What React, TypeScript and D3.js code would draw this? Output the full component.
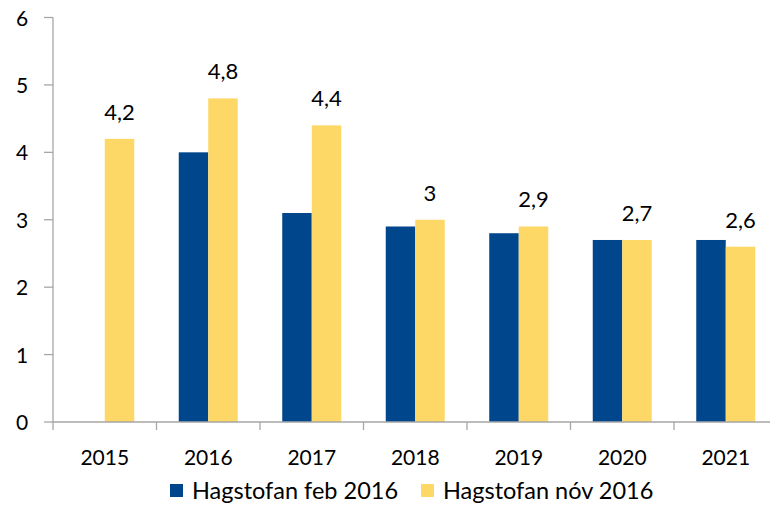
import React from "react";
import * as d3 from "d3";

const categories = ["2015", "2016", "2017", "2018", "2019", "2020", "2021"];
const seriesNames = ["Hagstofan feb 2016", "Hagstofan nóv 2016"];
const febValues: (number | null)[] = [null, 4.0, 3.1, 2.9, 2.8, 2.7, 2.7];
const novValues: number[] = [4.2, 4.8, 4.4, 3.0, 2.9, 2.7, 2.6];
const yTicks = [0, 1, 2, 3, 4, 5, 6];
const colors = ["#00468C", "#FDD866"];

const W = 770;
const H = 508;
const left = 53;
const bottom = 422;
const top = 17.5;
const bandW = 103.5;
const barW = 29.5;
const font = "Lato, 'Open Sans', sans-serif";

export default function App() {
  const x = d3
    .scaleBand<string>()
    .domain(categories)
    .range([left, left + bandW * categories.length])
    .padding(0);
  const y = d3.scaleLinear().domain([0, 6]).range([bottom, top]);
  const inner = d3
    .scaleBand<string>()
    .domain(seriesNames)
    .range([-barW, barW]);

  const axisColor = "#A6A6A6";

  return (
    <svg
      width={W}
      height={H}
      style={{ position: "absolute", left: 0, top: 0, background: "#fff" }}
    >
      {/* bars */}
      {categories.map((c, i) => {
        const cx = (x(c) as number) + x.bandwidth() / 2;
        const fv = febValues[i];
        const nv = novValues[i];
        return (
          <g key={c}>
            {fv != null && (
              <rect
                x={cx + (inner(seriesNames[0]) as number)}
                y={y(fv)}
                width={barW}
                height={y(0) - y(fv)}
                fill={colors[0]}
              />
            )}
            <rect
              x={cx + (inner(seriesNames[1]) as number)}
              y={y(nv)}
              width={barW}
              height={y(0) - y(nv)}
              fill={colors[1]}
            />
            <text
              x={cx + (inner(seriesNames[1]) as number) + barW / 2}
              y={y(nv) - 19}
              textAnchor="middle"
              fontFamily={font}
              fontSize={22}
              fill="#000"
            >
              {String(nv).replace(".", ",")}
            </text>
          </g>
        );
      })}

      {/* y axis */}
      <line x1={left} x2={left} y1={top} y2={bottom} stroke={axisColor} strokeWidth={1.3} />
      {yTicks.map((t) => (
        <g key={t}>
          <line x1={left - 9} x2={left} y1={y(t)} y2={y(t)} stroke={axisColor} strokeWidth={1.3} />
          <text
            x={22}
            y={y(t) + 8}
            textAnchor="middle"
            fontFamily={font}
            fontSize={21}
            fill="#000"
          >
            {t}
          </text>
        </g>
      ))}

      {/* x axis */}
      <line x1={left} x2={W} y1={bottom} y2={bottom} stroke={axisColor} strokeWidth={1.3} />
      {categories.map((c, i) => (
        <line
          key={"t" + c}
          x1={left + i * bandW}
          x2={left + i * bandW}
          y1={bottom}
          y2={bottom + 8}
          stroke={axisColor}
          strokeWidth={1.3}
        />
      ))}
      {categories.map((c) => (
        <text
          key={"l" + c}
          x={(x(c) as number) + x.bandwidth() / 2}
          y={465}
          textAnchor="middle"
          fontFamily={font}
          fontSize={21}
          fill="#000"
        >
          {c}
        </text>
      ))}

      {/* legend */}
      {seriesNames.map((s, i) => {
        const lx = [170, 421][i];
        return (
          <g key={s}>
            <rect x={lx} y={484} width={13} height={13} fill={colors[i]} />
            <text x={lx + 22} y={499} fontFamily={font} fontSize={23.5} fill="#000">
              {s}
            </text>
          </g>
        );
      })}
    </svg>
  );
}
